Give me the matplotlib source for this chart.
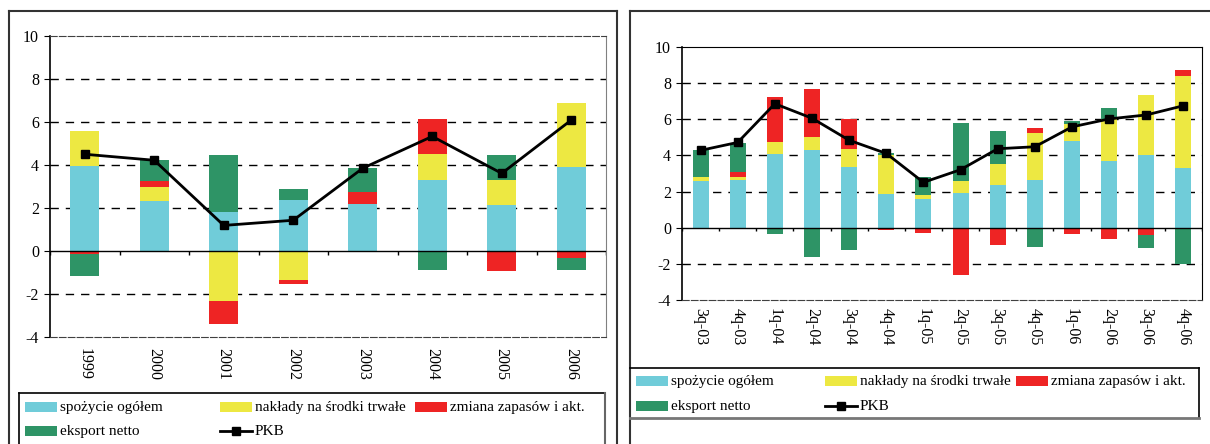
import numpy as np
import matplotlib.pyplot as plt
from matplotlib.patches import Rectangle
from matplotlib.lines import Line2D

plt.rcParams['font.family'] = ['Liberation Serif', 'DejaVu Serif']
plt.rcParams['axes.unicode_minus'] = False

# annual data
years = ['1999', '2000', '2001', '2002', '2003', '2004', '2005', '2006']
spozycie_y = [3.95, 2.33, 1.81, 2.37, 2.19, 3.30, 2.14, 3.92]
naklady_y = [1.63, 0.65, -2.33, -1.35, 0.0, 1.21, 1.16, 2.96]
zmiana_y = [-0.15, 0.28, -1.05, -0.17, 0.55, 1.63, -0.91, -0.33]
eksport_y = [-1.01, 0.97, 2.66, 0.51, 1.12, -0.87, 1.17, -0.54]
pkb_y = [4.50, 4.22, 1.19, 1.43, 3.85, 5.33, 3.61, 6.09]

# quarterly data
quarters = ['3q-03', '4q-03', '1q-04', '2q-04', '3q-04', '4q-04', '1q-05',
            '2q-05', '3q-05', '4q-05', '1q-06', '2q-06', '3q-06', '4q-06']
spozycie_q = [2.57, 2.66, 4.09, 4.31, 3.38, 1.89, 1.61, 1.94, 2.39, 2.66, 4.81, 3.71, 4.04, 3.32]
naklady_q = [0.22, 0.17, 0.66, 0.72, 0.99, 2.15, 0.22, 0.67, 1.15, 2.59, 0.93, 2.31, 3.30, 5.07]
zmiana_q = [-0.09, 0.27, 2.48, 2.64, 1.65, -0.13, -0.29, -2.62, -0.97, 0.27, -0.37, -0.64, -0.42, 0.33]
eksport_q = [1.52, 1.58, -0.37, -1.61, -1.23, 0.11, 1.00, 3.19, 1.82, -1.08, 0.17, 0.60, -0.72, -2.02]
pkb_q = [4.28, 4.72, 6.86, 6.06, 4.84, 4.11, 2.51, 3.21, 4.37, 4.48, 5.58, 6.02, 6.24, 6.75]

names = ['spożycie ogółem', 'nakłady na środki trwałe', 'zmiana zapasów i akt.', 'eksport netto']
colors = ['#70CCD9', '#EDE842', '#EE2424', '#2E9466']
FS = 11.5
LFS = 11

W, H = 1210, 444
fig = plt.figure(figsize=(W / 100, H / 100), dpi=100)


def fx(px):
    return px / W


def fy(py):
    return 1 - py / H


def stacked(ax, labels, series, pkb, width):
    x = np.arange(len(labels))
    pos = np.zeros(len(labels))
    neg = np.zeros(len(labels))
    for vals, c in zip(series, colors):
        vals = np.array(vals)
        base = np.where(vals >= 0, pos, neg)
        ax.bar(x, vals, width, bottom=base, color=c, zorder=2)
        pos = pos + np.clip(vals, 0, None)
        neg = neg + np.clip(vals, None, 0)
    ax.plot(x, pkb, color='black', lw=2, marker='s', ms=6, zorder=4)
    ax.axhline(0, color='black', lw=1, zorder=3)
    b = np.arange(len(labels) + 1) - 0.5
    ax.vlines(b, -0.2, 0, color='black', lw=1, zorder=3)
    ax.set_xlim(-0.5, len(labels) - 0.5)
    ax.set_ylim(-4, 10)
    ax.set_yticks(np.arange(-4, 11, 2))
    for v in [-2, 2, 4, 6, 8]:
        ax.axhline(v, color='black', lw=1, ls=(0, (6, 5)), zorder=1)
    ax.set_xticks(x)
    ax.set_xticklabels(labels, rotation=-90, fontsize=FS)
    ax.tick_params(axis='x', length=0, pad=8)
    ax.tick_params(axis='y', length=4, labelsize=FS, pad=4)
    ax.spines['left'].set_color('black')
    ax.spines['left'].set_linewidth(1.2)


# left panel
ax1 = fig.add_axes([fx(50), fy(337), fx(556), (337 - 36) / H])
stacked(ax1, years, [spozycie_y, naklady_y, zmiana_y, eksport_y], pkb_y, 0.42)
for s in ['top', 'bottom']:
    ax1.spines[s].set_linestyle((0, (6, 2)))
    ax1.spines[s].set_color('#404040')
ax1.spines['right'].set_color('#808080')

# right panel
ax2 = fig.add_axes([fx(682), fy(300), fx(520), (300 - 47) / H])
stacked(ax2, quarters, [spozycie_q, naklady_q, zmiana_q, eksport_q], pkb_q, 0.43)
ax2.spines['bottom'].set_linestyle((0, (6, 2)))
ax2.spines['bottom'].set_color('#404040')
ax2.tick_params(axis='x', pad=6)


def frame_line(x0, y0, x1, y1, color='black', lw=1.2):
    fig.add_artist(Line2D([fx(x0), fx(x1)], [fy(y0), fy(y1)], color=color, lw=lw))


# outer frames
frame_line(9, 11, 617, 11, '#333333', 1.5)
frame_line(9, 11, 9, 444, '#333333', 1.5)
frame_line(617, 11, 617, 444, '#333333', 1.5)
frame_line(630, 11, 1210, 11, '#333333', 1.5)
frame_line(630, 11, 630, 444, '#333333', 1.5)
# legend boxes
frame_line(19, 393, 605, 393)
frame_line(19, 393, 19, 444)
frame_line(605, 393, 605, 444, '#666666', 1.5)
frame_line(630, 368, 1199, 368)
frame_line(1199, 368, 1199, 418)
frame_line(630, 418, 1199, 418, '#777777', 2)


def legend(x_cols, y_rows):
    entries = [(0, 0, 0), (1, 0, 1), (2, 0, 2), (3, 1, 0)]
    for k, r, c in entries:
        x0 = x_cols[c]
        y0 = y_rows[r]
        fig.add_artist(Rectangle((fx(x0), fy(y0 + 5)), fx(32), 10 / H,
                                 color=colors[k], lw=0))
        fig.text(fx(x0 + 35), fy(y0), names[k], fontsize=LFS, va='center', ha='left')
    x0 = x_cols[1]
    y0 = y_rows[1]
    fig.add_artist(Line2D([fx(x0), fx(x0 + 16), fx(x0 + 32)], [fy(y0)] * 3,
                          color='black', lw=2, marker='s', ms=6, markevery=[1]))
    fig.text(fx(x0 + 35), fy(y0), 'PKB', fontsize=LFS, va='center', ha='left')


legend([25, 220, 415], [407, 431])
legend([636, 825, 1016], [381, 406])

fig.savefig('out.png', dpi=100)
